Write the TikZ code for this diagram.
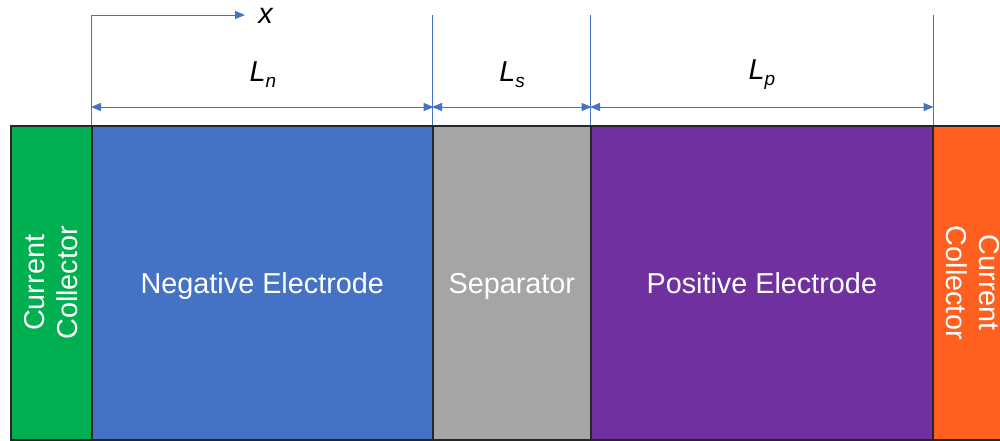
\documentclass[tikz,border=0pt]{standalone}
\usepackage{fontspec}
\setmainfont{Liberation Sans}
\usetikzlibrary{arrows.meta,calc}

\definecolor{ccgreen}{HTML}{00B050}
\definecolor{negblue}{HTML}{4472C4}
\definecolor{sepgray}{HTML}{A5A5A5}
\definecolor{posviolet}{HTML}{7030A0}
\definecolor{ccorange}{HTML}{FF5F1F}
\definecolor{dimblue}{HTML}{4472C4}

\newcommand\lblfont{\fontsize{28.8}{33}\selectfont}
\newcommand\dimlabel[2]{\textit{#1}\raisebox{-6pt}{\fontsize{19}{19}\selectfont\textit{#2}}}

\begin{document}
\begin{tikzpicture}[x=1pt,y=-1pt,
  layer/.style={draw=black!85, line width=1.6pt, fill=#1, minimum height=314pt,
    anchor=north west, inner sep=0pt, text=white, font=\lblfont,
    text height=21pt, text depth=0pt},
  cctext/.style={text=white, font=\lblfont, align=center, inner sep=0pt},
  dimline/.style={draw=dimblue, line width=1pt},
  dimtip/.style={dimline, {Triangle[length=10pt,width=8pt]}-{Triangle[length=10pt,width=8pt]}},
  axistip/.style={dimline, -{Triangle[length=10pt,width=8pt]}},
  dimtext/.style={font=\lblfont, inner sep=0pt}]

  \clip (0,0) rectangle (1000,440);

  % cell layers
  \node[layer=ccgreen,   minimum width=81pt]  (ccL) at (10,125)  {};
  \node[layer=negblue,   minimum width=341pt] (neg) at (91,125)  {Negative Electrode};
  \node[layer=sepgray,   minimum width=158pt] (sep) at (432,125) {Separator};
  \node[layer=posviolet, minimum width=342pt] (pos) at (590,125) {Positive Electrode};
  \node[layer=ccorange,  minimum width=81pt]  (ccR) at (932,125) {};

  \node[cctext, rotate=90]  (ccLt) at (ccL.center) {Current\\Collector};
  \node[cctext, rotate=-90] (ccRt) at (ccR.center) {Current\\Collector};

  % reference rows
  \coordinate (toprow) at (0,15);
  \coordinate (dimrow) at (0,107);
  \coordinate (xend) at (245,15);

  % x axis and extension lines
  \draw[axistip] (neg.north west) -- (neg.north west |- toprow) -- (xend);
  \node[dimtext] (xlab) at (266,15.5) {\textit{x}};
  \draw[dimline] (sep.north west) -- (sep.north west |- toprow);
  \draw[dimline] (pos.north west) -- (pos.north west |- toprow);
  \draw[dimline] (pos.north east) -- (pos.north east |- toprow);

  % dimension arrows
  \draw[dimtip] (neg.north west |- dimrow) -- (neg.north east |- dimrow);
  \draw[dimtip] (sep.north west |- dimrow) -- (sep.north east |- dimrow);
  \draw[dimtip] (pos.north west |- dimrow) -- (pos.north east |- dimrow);

  \node[dimtext] (Ln) at (263,75) {\dimlabel{L}{n}};
  \node[dimtext] (Ls) at (512,75) {\dimlabel{L}{s}};
  \node[dimtext] (Lp) at (762,75) {\dimlabel{L}{p}};
\end{tikzpicture}
\end{document}
